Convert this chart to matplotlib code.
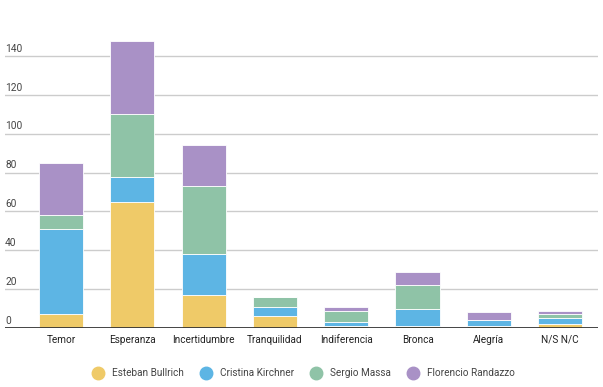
import numpy as np
import matplotlib.pyplot as plt
from matplotlib.lines import Line2D

plt.rcParams['font.family'] = ['Roboto', 'DejaVu Sans']

categorias = ['Temor', 'Esperanza', 'Incertidumbre', 'Tranquilidad',
              'Indiferencia', 'Bronca', 'Alegría', 'N/S N/C']
bullrich = [7, 65, 17, 6, 1, 1, 1, 2]
kirchner = [44, 13, 21, 5, 2, 9, 3, 3]
massa = [7, 32, 35, 5, 6, 12, 0, 2]
randazzo = [27, 38, 21, 0, 2, 7, 4, 2]

series = [('Esteban Bullrich', bullrich, '#efca68'),
          ('Cristina Kirchner', kirchner, '#5db5e4'),
          ('Sergio Massa', massa, '#8fc3a7'),
          ('Florencio Randazzo', randazzo, '#a991c6')]

fig = plt.figure(figsize=(6.03, 3.87), dpi=100)
ax = fig.add_axes([5/603, 59/387, 593/603, 301/387])

x = np.arange(len(categorias))
base = np.zeros(len(categorias))
handles = []
for nombre, vals, color in series:
    ax.bar(x, vals, 0.62, bottom=base, color=color, edgecolor='white',
           linewidth=0.6, zorder=3)
    base += np.array(vals)
    handles.append(Line2D([], [], marker='o', linestyle='', markersize=9,
                          markerfacecolor=color, markeredgecolor=color, label=nombre))

ax.set_xlim(-0.785, 7.53)
ax.set_ylim(0, 155)
for s in ax.spines.values():
    s.set_visible(False)
ax.axhline(0, color='#333333', lw=2, zorder=4)
for v in range(20, 160, 20):
    ax.axhline(v, color='#cccccc', lw=1, zorder=1)
# etiquetas del eje y sobre cada linea
for v in range(0, 160, 20):
    ax.text(0.0, v + 1.2, str(v), transform=ax.get_yaxis_transform(),
            ha='left', va='bottom', fontsize=7.3, color='#444444')
ax.set_yticks([])
ax.set_xticks(x)
ax.set_xticklabels(categorias, fontsize=7.2, color='#222222')
ax.tick_params(axis='x', length=0, pad=5)

fig.legend(handles=handles, loc='center', bbox_to_anchor=(0.5, 14/387), ncol=4,
           frameon=False, fontsize=7.2, handletextpad=0.4, columnspacing=1.2,
           labelcolor='#444444')

fig.savefig('out.png', dpi=100)
